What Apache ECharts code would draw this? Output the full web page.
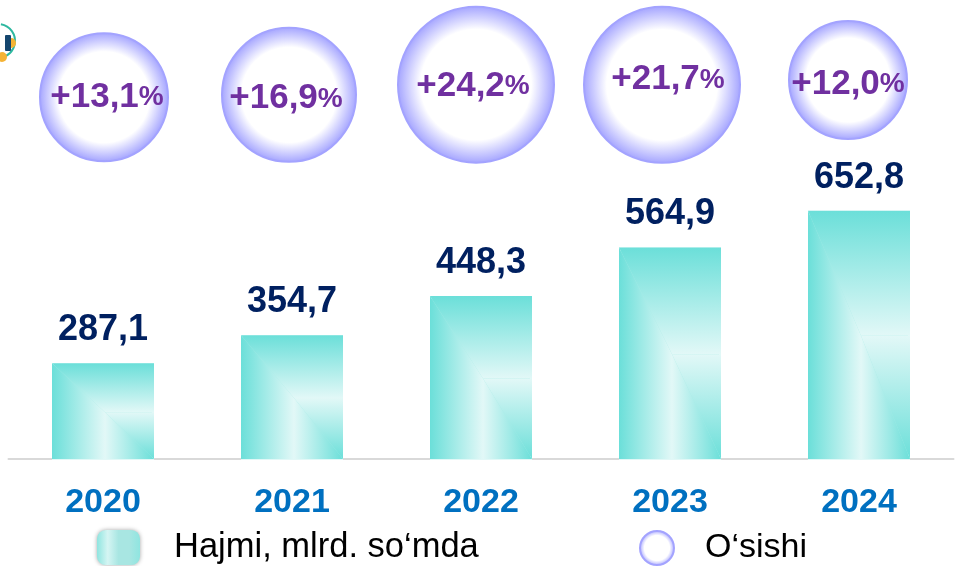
<!DOCTYPE html>
<html><head><meta charset="utf-8">
<style>html,body{margin:0;padding:0;background:#fff}#c{width:955px;height:566px}</style>
<script src="https://cdn.jsdelivr.net/npm/echarts@6/dist/echarts.min.js"></script>
</head><body><div id="c"></div>
<script>
const years = ['2020','2021','2022','2023','2024'];
const volume = [287.1,354.7,448.3,564.9,652.8];
const growth = [13.1,16.9,24.2,21.7,12.0];
const volumeName = 'Hajmi, mlrd. so‘mda';
const growthName = 'O‘sishi';

const FONT = '"Liberation Sans", Arial, sans-serif';
const TEAL = '#6bdfd9', PALE = '#e2f8f7';
const comma = v => v.toFixed(1).replace('.', ',');
const linear = (x, y, x2, y2, stops) => ({type:'linear', x, y, x2, y2, colorStops: stops.map((c,i)=>({offset:i/(stops.length-1), color:c}))});

// Layout of the bubbles, which sit freely above the bars in the reference
const bubbleSize = [128,134,156,156,118];
const bubbleNudge = [[1,9],[-3,13],[-5,15],[-8,11],[-11,-10]];
const labelNudge = [[3,0],[-3,4],[-3,2],[6,-5],[0,4]];

const chart = echarts.init(document.getElementById('c'), null, {renderer:'canvas'});
chart.setOption({
  animation:false,
  backgroundColor:'#fff',
  grid:[
    {left:8.5, width:945, top:191, bottom:107},
    {left:8.5, width:945, top:60, height:50}
  ],
  xAxis:[
    {type:'category', data:years, gridIndex:0,
      axisTick:{show:false},
      axisLine:{show:true, lineStyle:{color:'#d9d9d9', width:2}},
      axisLabel:{color:'#0070c0', fontFamily:FONT, fontWeight:'bold', fontSize:34, margin:27}},
    {type:'category', data:years, gridIndex:1, show:false}
  ],
  yAxis:[
    {type:'value', gridIndex:0, min:58, max:700, show:false},
    {type:'value', gridIndex:1, min:0, max:30, show:false}
  ],
  legend:[
    {left:97, top:530, padding:0, data:[{name:volumeName}], icon:'roundRect', itemWidth:43, itemHeight:35, itemGap:0,
      itemStyle:{color:linear(0,0,1,0,['#8fe5e0','#d5f5f3','#a8e6e2','#a8e6e2','#8fe5e0']), borderWidth:0, shadowBlur:4, shadowColor:'rgba(0,0,0,0.35)'},
      textStyle:{fontFamily:FONT, fontSize:34.5, color:'#000', padding:[0,0,0,29]}},
    {left:639, top:530, padding:0, data:[{name:growthName}], icon:'circle', itemWidth:34, itemHeight:34, itemGap:0,
      textStyle:{fontFamily:FONT, fontSize:34, color:'#000', padding:[0,0,0,26]}}
  ],
  series:[
    {name:volumeName, type:'bar', xAxisIndex:0, yAxisIndex:0, data:volume, barWidth:102,
      itemStyle:{color:'#a8ebe6', borderColor:PALE, borderWidth:2},
      label:{show:true, position:'top', distance:15, formatter:p=>comma(p.value),
        color:'#002060', fontFamily:FONT, fontWeight:'bold', fontSize:36}},
    {name:'fill', type:'custom', xAxisIndex:0, yAxisIndex:0, data:volume.map((v,i)=>[i,v]), z:3, silent:true,
      encode:{x:0,y:1},
      renderItem:(params, api)=>{
        const top = api.coord([api.value(0), api.value(1)]);
        const bottom = api.coord([api.value(0), 58]);
        const half = 51;
        const x0 = top[0]-half, x1 = top[0]+half, xc = top[0]+2, y0 = top[1], y1 = bottom[1], yc = (y0+y1)/2+1;
        const poly = (points, fill)=>({type:'polygon', shape:{points}, style:{fill}});
        return {type:'group', children:[
          poly([[x0,y0],[x1,y0],[x1,yc],[xc,yc]], linear(0,0,0,1,[TEAL,PALE])),
          poly([[x0,y0],[xc,yc],[xc,y1],[x0,y1]], linear(0,0,1,0,[TEAL,PALE])),
          poly([[xc,yc],[x1,yc],[x1,y1]], linear(0,0,0,1,[PALE,TEAL])),
          poly([[xc,yc],[xc,y1],[x1,y1]], linear(0,0,1,0,[PALE,TEAL]))
        ]};
      }},
    {name:growthName, type:'scatter', xAxisIndex:1, yAxisIndex:1, clip:false, z:4,
      data:growth.map((g,i)=>({
        value:g,
        symbolSize:bubbleSize[i],
        symbolOffset:bubbleNudge[i],
        label:{offset:labelNudge[i]}
      })),
      itemStyle:{
        color:{type:'radial', x:.5, y:.5, r:.5, colorStops:[{offset:0,color:'#fff'},{offset:.7,color:'#fff'},{offset:1,color:'#a3a3ff'}]},
        borderColor:'#a3a3ff', borderWidth:2, opacity:1},
      label:{show:true, position:'inside',
        formatter:p=>'{n|+'+comma(p.value)+'}{p|%}',
        rich:{
          n:{color:'#7030a0', fontFamily:FONT, fontWeight:'bold', fontSize:35},
          p:{color:'#7030a0', fontFamily:FONT, fontWeight:'bold', fontSize:28}
        }}}
  ],
  graphic:[
    {type:'arc', shape:{cx:-2,cy:41,r:17,startAngle:-1.4,endAngle:1.4}, style:{stroke:'#2fb8a0',fill:'none',lineWidth:2}, z:1},
    {type:'circle', shape:{cx:11,cy:43,r:5}, style:{fill:'#f5b335'}, z:1},
    {type:'rect', shape:{x:5,y:35,width:6,height:16,r:1}, style:{fill:'#14466e'}, z:2},
    {type:'circle', shape:{cx:2,cy:57,r:5}, style:{fill:'#f5b335'}, z:1}
  ]
});
</script></body></html>
